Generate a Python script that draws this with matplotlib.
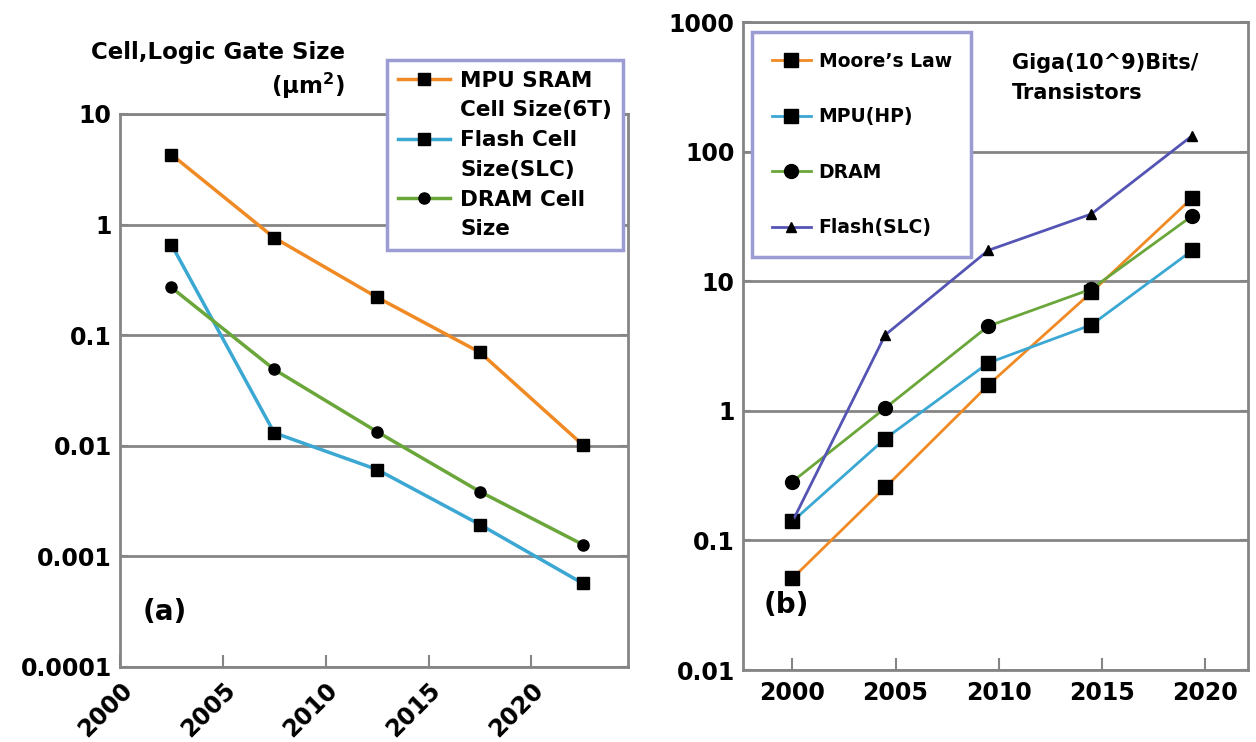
import matplotlib
matplotlib.use("Agg")
import matplotlib.pyplot as plt
from matplotlib.lines import Line2D

plt.rcParams['font.family'] = ['DejaVu Sans']
plt.rcParams['font.weight'] = 'bold'

# ---- data, panel (a): cell / logic gate size (um^2)
years_a = [2002.5, 2007.5, 2012.5, 2017.5, 2022.5]
sram_6t = [4.3, 0.76, 0.22, 0.070, 0.0102]
flash_cell = [0.66, 0.0131, 0.0061, 0.00194, 0.00057]
dram_cell = [0.27, 0.049, 0.0134, 0.00385, 0.00128]

# ---- data, panel (b): Giga bits / transistors
years_b = [2000, 2004.5, 2009.5, 2014.5, 2019.4]
moores_law = [0.051, 0.256, 1.58, 8.2, 44]
mpu_hp = [0.14, 0.61, 2.34, 4.6, 17.3]
dram_bits = [0.284, 1.05, 4.5, 8.7, 32]
flash_slc = [0.14, 3.85, 17.3, 33, 133]

yticks_a = [0.0001, 0.001, 0.01, 0.1, 1, 10]
ylabels_a = ['0.0001', '0.001', '0.01', '0.1', '1', '10']
yticks_b = [0.01, 0.1, 1, 10, 100, 1000]
ylabels_b = ['0.01', '0.1', '1', '10', '100', '1000']
xticks = [2000, 2005, 2010, 2015, 2020]

c_orange = '#f08a24'
c_blue = '#3ba7d3'
c_green = '#6aa63a'
c_purple = '#5454b4'
gray = '#858585'
frame_c = '#9c9cd4'

fig = plt.figure(figsize=(12.56, 7.42), dpi=100)
W, H = 1256, 742

def px_axes(l, t, r, b):
    return fig.add_axes([l / W, 1 - b / H, (r - l) / W, (b - t) / H])

def style(ax):
    for s in ax.spines.values():
        s.set_color(gray)
        s.set_linewidth(2)
    ax.yaxis.grid(True, color=gray, linewidth=2)
    ax.xaxis.grid(False)
    ax.set_axisbelow(True)
    ax.minorticks_off()
    ax.tick_params(axis='x', direction='in', length=9, width=1.5, color=gray, labelsize=17, pad=8)
    ax.tick_params(axis='y', direction='in', length=6, width=1.5, color=gray, labelsize=17,
                   right=True, pad=6)

# ---------------- panel (a)
ax1 = px_axes(120, 114, 628, 667)
ax1.set_yscale('log')
p1, = ax1.plot(years_a, sram_6t, '-s', color=c_orange, lw=2.5, mfc='black', mec='black', ms=8, zorder=3)
p2, = ax1.plot(years_a, flash_cell, '-s', color=c_blue, lw=2.5, mfc='black', mec='black', ms=8, zorder=3)
p3, = ax1.plot(years_a, dram_cell, '-o', color=c_green, lw=2.5, mfc='black', mec='black', ms=8, zorder=3)
ax1.set_ylim(0.0001, 10)
ax1.set_xlim(2000, 2024.7)
ax1.set_yticks(yticks_a)
ax1.set_yticklabels(ylabels_a)
ax1.set_xticks(xticks)
ax1.set_xticklabels([str(x) for x in xticks], rotation=45, ha='right', va='top',
                    rotation_mode='anchor')
style(ax1)
ax1.text(0.045, 0.1, '(a)', transform=ax1.transAxes, fontsize=20, va='center')

blank = Line2D([], [], color='none')
leg1 = ax1.legend([p1, blank, p2, blank, p3, blank],
                  ['MPU SRAM', 'Cell Size(6T)', 'Flash Cell', 'Size(SLC)', 'DRAM Cell', 'Size'],
                  loc='upper right', bbox_to_anchor=(623 / W, 1 - 60 / H),
                  bbox_transform=fig.transFigure, borderaxespad=0, fontsize=15.5,
                  labelspacing=0.45, handlelength=2.4, handletextpad=0.5, borderpad=0.5,
                  fancybox=False, framealpha=1, edgecolor=frame_c)
leg1.get_frame().set_linewidth(2.5)

fig.text(345 / W, 1 - 52 / H, 'Cell,Logic Gate Size', fontsize=16.5, ha='right', va='center')
fig.text(345 / W, 1 - 86 / H, '(\u03bcm$^\\mathbf{2}$)', fontsize=16.5, ha='right', va='center')

# ---------------- panel (b)
ax2 = px_axes(743, 22, 1248, 670)
ax2.set_yscale('log')
q1, = ax2.plot(years_b, moores_law, '-s', color=c_orange, lw=2, mfc='black', mec='black', ms=10, zorder=3)
q2, = ax2.plot(years_b, mpu_hp, '-s', color=c_blue, lw=2, mfc='black', mec='black', ms=10, zorder=3)
q3, = ax2.plot(years_b, dram_bits, '-o', color=c_green, lw=2, mfc='black', mec='black', ms=10, zorder=3)
q4, = ax2.plot(years_b, flash_slc, '-^', color=c_purple, lw=2, mfc='black', mec='black', ms=7, zorder=3)
ax2.set_ylim(0.01, 1000)
ax2.set_xlim(1997.6, 2022.1)
ax2.set_yticks(yticks_b)
ax2.set_yticklabels(ylabels_b)
ax2.set_xticks(xticks)
ax2.set_xticklabels([str(x) for x in xticks])
style(ax2)
ax2.text(0.04, 0.1, '(b)', transform=ax2.transAxes, fontsize=20, va='center')

leg2 = ax2.legend([q1, q2, q3, q4], ["Moore\u2019s Law", 'MPU(HP)', 'DRAM', 'Flash(SLC)'],
                  loc='upper left', bbox_to_anchor=(752 / W, 1 - 32 / H),
                  bbox_transform=fig.transFigure, borderaxespad=0, fontsize=13.5,
                  labelspacing=1.95, handlelength=2.1, handletextpad=0.4, borderpad=1.05,
                  fancybox=False, framealpha=1, edgecolor=frame_c)
leg2.get_frame().set_linewidth(2.5)

fig.text(1012 / W, 1 - 63 / H, 'Giga(10^9)Bits/', fontsize=15, ha='left', va='center')
fig.text(1012 / W, 1 - 93 / H, 'Transistors', fontsize=15, ha='left', va='center')

fig.savefig('out.png', dpi=100)
